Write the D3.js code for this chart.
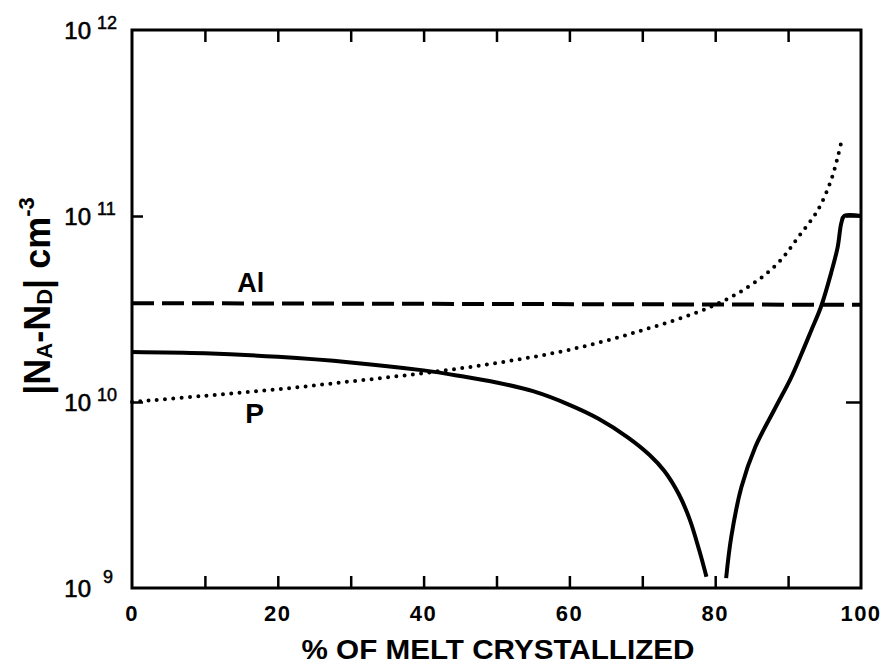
<!DOCTYPE html>
<html>
<head>
<meta charset="utf-8">
<script src="https://cdn.jsdelivr.net/npm/d3@7"></script>
<style>
    body { margin: 0; background: #fff; }
    svg { display: block; font-family: "Liberation Sans", Arial, sans-serif; font-weight: bold; }
</style>
</head>
<body>
<svg id="chart" width="885" height="667"></svg>
<script>
// data (x = % of melt crystallized, y = |NA-ND| in cm^-3)
const alX = [0, 100];
const alY = [3.4e10, 3.33e10];

const pX = [0, 10, 20, 30, 40, 50, 60, 70, 79, 84.5, 88.6, 91.4, 94.1, 95.9, 96.8, 97.4];
const pY = [1.0e10, 1.08e10, 1.17e10, 1.29e10, 1.43e10, 1.62e10, 1.91e10, 2.43e10, 3.2e10,
            4.15e10, 5.58e10, 7.71e10, 1.08e11, 1.56e11, 2.07e11, 2.6e11];

// net doping, left branch (before the compensation point)
const netLeftX = [0, 10, 20, 30, 40, 45, 50, 55, 60, 64, 68, 71, 73, 75, 76.5, 77.8, 78.8];
const netLeftY = [1.858e10, 1.828e10, 1.75e10, 1.633e10, 1.479e10, 1.38e10, 1.274e10, 1.143e10,
                  9.66e9, 8.13e9, 6.46e9, 5.19e9, 4.27e9, 3.2e9, 2.34e9, 1.6e9, 1.15e9];

// net doping, right branch (after the compensation point)
const netRightX = [81.5, 82.2, 83.6, 85.5, 88.2, 90.4, 91.8, 93.2, 94.5, 95.9, 96.8, 97.3, 97.7, 100];
const netRightY = [1.13e9, 1.88e9, 3.49e9, 5.73e9, 9.23e9, 1.349e10, 1.8e10, 2.44e10, 3.24e10,
                   4.94e10, 6.81e10, 9.16e10, 1e11, 1e11];

const xTicks = [0, 10, 20, 30, 40, 50, 60, 70, 80, 90, 100];
const xLabels = [0, 20, 40, 60, 80, 100];
const yTicks = [1e9, 1e10, 1e11, 1e12];
const yExponents = ['9', '10', '11', '12'];

// plot frame
const margin = { top: 30, right: 24, bottom: 79, left: 132 };
const svg = d3.select('#chart');
const width = 885 - margin.left - margin.right;
const height = 667 - margin.top - margin.bottom;

const g = svg.append('g')
    .attr('transform', `translate(${margin.left},${margin.top})`);

const x = d3.scaleLinear().domain([0, 100]).range([0, width]);
const y = d3.scaleLog().domain([1e9, 1e12]).range([height, 0]);

// axes, ticks point inwards on all four sides
const axisStyle = sel => {
    sel.select('.domain').remove();
    sel.selectAll('.tick line').attr('stroke', '#000').attr('stroke-width', 2.5);
};

g.append('g')
    .attr('transform', `translate(0,${height})`)
    .call(d3.axisBottom(x).tickValues(xTicks.slice(1, -1)).tickSize(-12).tickFormat(''))
    .call(axisStyle);

g.append('g')
    .call(d3.axisTop(x).tickValues(xTicks.slice(1, -1)).tickSize(-12).tickFormat(''))
    .call(axisStyle);

g.append('g')
    .call(d3.axisLeft(y).tickValues(yTicks.slice(1, -1)).tickSize(-11).tickFormat(''))
    .call(axisStyle);

g.append('g')
    .attr('transform', `translate(${width},0)`)
    .call(d3.axisRight(y).tickValues(yTicks.slice(1, -1)).tickSize(-15).tickFormat(''))
    .call(axisStyle);

// frame
g.append('rect')
    .attr('width', width)
    .attr('height', height)
    .attr('fill', 'none')
    .attr('stroke', '#000')
    .attr('stroke-width', 3);

// x tick labels
g.selectAll('.xlab')
    .data(xLabels)
    .enter().append('text')
    .attr('class', 'xlab')
    .attr('x', d => x(d))
    .attr('y', height + 33)
    .attr('text-anchor', 'middle')
    .attr('font-size', 22)
    .attr('letter-spacing', 1.5)
    .text(d => d);

// y tick labels, 10 with exponent
yTicks.forEach((t, i) => {
    g.append('text')
        .attr('x', -41)
        .attr('y', y(t) + 9)
        .attr('text-anchor', 'end')
        .attr('font-size', 24)
        .attr('font-weight', 'normal')
        .attr('stroke', '#000')
        .attr('stroke-width', 0.6)
        .text('10');
    g.append('text')
        .attr('x', i === 0 ? -29 : -35)
        .attr('y', y(t) - (i === 0 ? 5 : 1))
        .attr('font-size', 18)
        .attr('font-weight', 'normal')
        .attr('stroke', '#000')
        .attr('stroke-width', 0.5)
        .text(yExponents[i]);
});

// axis titles
svg.append('text')
    .attr('x', 498)
    .attr('y', 659)
    .attr('text-anchor', 'middle')
    .attr('font-size', 28)
    .attr('textLength', 393)
    .attr('lengthAdjust', 'spacingAndGlyphs')
    .text('% OF MELT CRYSTALLIZED');

const yTitle = svg.append('text')
    .attr('transform', 'translate(50,296) rotate(-90)')
    .attr('text-anchor', 'middle')
    .attr('font-size', 36);
yTitle.append('tspan').text('|N');
yTitle.append('tspan').attr('font-size', 22).attr('dy', 2).text('A');
yTitle.append('tspan').attr('dy', -2).text('-N');
yTitle.append('tspan').attr('font-size', 22).attr('dy', 2).text('D');
yTitle.append('tspan').attr('dy', -2).text('| cm');
yTitle.append('tspan').attr('font-size', 22).attr('dy', -16).text('-3');

// curves
const line = d3.line()
    .x(d => x(d[0]))
    .y(d => y(d[1]))
    .curve(d3.curveCatmullRom.alpha(0.5));

const zip = (xs, ys) => xs.map((v, i) => [v, ys[i]]);

// Al, dashed
g.append('path')
    .datum(zip(alX, alY))
    .attr('fill', 'none')
    .attr('stroke', '#000')
    .attr('stroke-width', 4)
    .attr('stroke-dasharray', '22 8')
    .attr('d', line);

// P, dotted
g.append('path')
    .datum(zip(pX, pY))
    .attr('fill', 'none')
    .attr('stroke', '#000')
    .attr('stroke-width', 4)
    .attr('stroke-linecap', 'round')
    .attr('stroke-dasharray', '0 8.3')
    .attr('d', line);

// |NA-ND|, solid, two branches
[zip(netLeftX, netLeftY), zip(netRightX, netRightY)].forEach(branch => {
    g.append('path')
        .datum(branch)
        .attr('fill', 'none')
        .attr('stroke', '#000')
        .attr('stroke-width', 4)
        .attr('d', line);
});

// curve labels
g.append('text')
    .attr('x', x(16.3))
    .attr('y', y(3.4e10) - 11)
    .attr('text-anchor', 'middle')
    .attr('font-size', 27)
    .text('Al');

g.append('text')
    .attr('x', x(16.8))
    .attr('y', y(1e10) + 21)
    .attr('text-anchor', 'middle')
    .attr('font-size', 28)
    .text('P');
</script>
</body>
</html>
